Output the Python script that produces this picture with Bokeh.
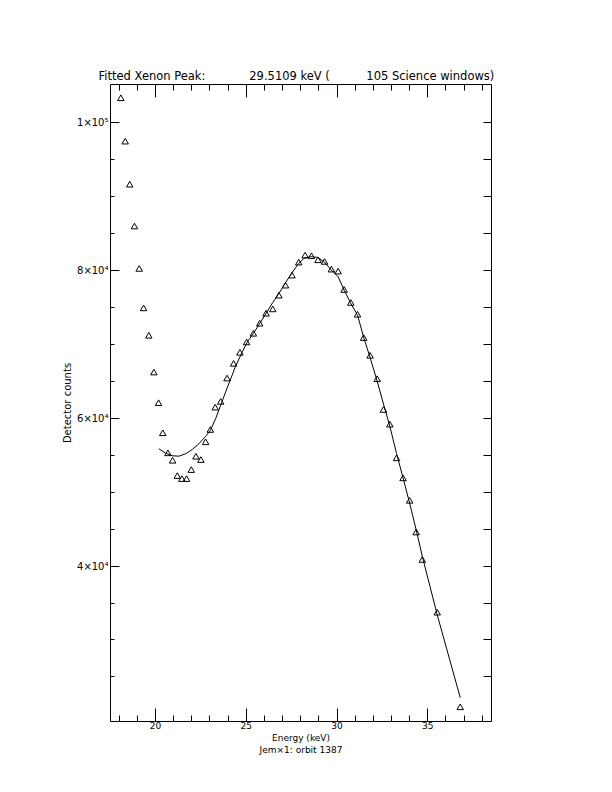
from bokeh.plotting import figure
from bokeh.models import Range1d, LinearAxis, FixedTicker, Title
from bokeh.embed import file_html
from bokeh.resources import INLINE

# ---- data ----
energy = [18.09, 18.33, 18.58, 18.84, 19.10, 19.34, 19.63, 19.91, 20.17, 20.40,
          20.68, 20.94, 21.20, 21.45, 21.71, 21.97, 22.23, 22.50, 22.76, 23.02,
          23.29, 23.59, 23.94, 24.30, 24.65, 25.02, 25.39, 25.74, 26.09, 26.46,
          26.80, 27.16, 27.52, 27.89, 28.24, 28.59, 28.95, 29.31, 29.69, 30.06,
          30.39, 30.76, 31.13, 31.47, 31.82, 32.21, 32.56, 32.91, 33.28, 33.64,
          34.00, 34.36, 34.70, 35.52, 36.79]
counts = [103184, 97317, 91491, 85840, 80108, 74770, 71070, 66098, 61951, 57886,
          55176, 54173, 52100, 51694, 51694, 52913, 54715, 54268, 56667, 58333,
          61355, 62127, 65285, 67276, 68767, 70163, 71341, 72696, 74051, 74634,
          76491, 77846, 79201, 80962, 81911, 81816, 81274, 81057, 80014, 79743,
          77263, 75501, 73916, 70759, 68360, 65203, 61043, 59051, 54499, 51789,
          48753, 44472, 40759, 33631, 20840]

fit_energy = [20.18, 20.55, 20.92, 21.29, 21.66, 22.03, 22.39, 22.76, 23.02, 23.31,
              23.59, 23.86, 24.14, 24.41, 24.78, 25.06, 25.39, 25.74, 26.09, 26.46,
              26.80, 27.16, 27.52, 27.89, 28.18, 28.55, 28.92, 29.29, 29.69, 30.06,
              30.39, 30.76, 31.13, 31.47, 31.82, 32.21, 32.56, 32.91, 33.28, 33.64,
              34.00, 34.36, 34.70, 35.52, 36.79]
fit_counts = [55854, 55257, 54905, 54851, 55176, 55759, 56531, 57520, 58333, 59919,
              61721, 63523, 65285, 67005, 68943, 70298, 71436, 72791, 74146, 75637,
              76856, 78293, 79648, 80921, 81599, 81816, 81734, 81138, 80014, 79106,
              77304, 75501, 73916, 70900, 68200, 65000, 61900, 58900, 55200, 51900,
              48500, 44900, 41300, 33400, 22195]

x_major = [20, 25, 30, 35]
x_minor = [18, 19, 21, 22, 23, 24, 26, 27, 28, 29, 31, 32, 33, 34, 36, 37, 38]
y_major = [40000, 60000, 80000, 100000]
y_major_labels = ["4×10⁴", "6×10⁴", "8×10⁴", "1×10⁵"]
y_minor = [25000, 30000, 35000, 45000, 50000, 55000, 65000, 70000, 75000,
           85000, 90000, 95000]
y_right_ticks = [25000, 30000, 35000, 40000, 45000, 50000, 55000, 60000, 65000,
                 70000, 75000, 80000, 85000, 90000, 95000, 100000]

title_text = ("Fitted Xenon Peak:" + "\u00a0" * 12 + "29.5109 keV (" + "\u00a0" * 10
              + "105 Science windows)")
x_label_1 = "Energy (keV)"
x_label_2 = "Jem×1: orbit 1387"
y_label = "Detector counts"

FONT = "DejaVu Sans"

x0, x1 = 17.52, 38.51
y0, y1 = 18980, 105100

p = figure(width=600, height=780, output_backend="svg", toolbar_location=None,
           x_range=Range1d(x0, x1), y_range=Range1d(y0, y1),
           x_axis_location=None, y_axis_location=None,
           min_border_left=110, min_border_right=109,
           min_border_top=84, min_border_bottom=59)
p.outline_line_color = None
p.background_fill_color = "white"
p.border_fill_color = "white"
for g in p.grid:
    g.visible = False


def style(ax, major_in, minor_in, font_size="10px"):
    ax.major_tick_in = major_in
    ax.major_tick_out = 0
    ax.minor_tick_in = minor_in
    ax.minor_tick_out = 0
    ax.axis_line_color = "black"
    ax.axis_line_width = 1
    ax.major_tick_line_color = "black"
    ax.minor_tick_line_color = "black"
    ax.major_label_text_font = FONT
    ax.major_label_text_font_size = font_size
    ax.major_label_text_color = "black"
    ax.major_label_standoff = 2


# bottom axis
xb = LinearAxis(ticker=FixedTicker(ticks=x_major, minor_ticks=x_minor))
style(xb, 13, 6, "9px")
xb.major_label_standoff = 0
xb.axis_label = x_label_1
xb.axis_label_text_font = FONT
xb.axis_label_text_font_size = "9px"
xb.axis_label_text_font_style = "normal"
xb.axis_label_text_color = "black"
xb.axis_label_standoff = 1
p.add_layout(xb, "below")
p.add_layout(Title(text=x_label_2, align="center", text_font=FONT,
                   text_font_size="9px", text_font_style="normal",
                   text_color="black", standoff=-6), "below")

# top axis (no labels)
xt = LinearAxis(ticker=FixedTicker(ticks=x_major, minor_ticks=x_minor))
style(xt, 13, 6, "1px")
xt.major_label_overrides = {t: "" for t in x_major}
xt.major_label_standoff = 0
p.add_layout(xt, "above")

# left axis
yl = LinearAxis(ticker=FixedTicker(ticks=y_major, minor_ticks=y_minor))
style(yl, 9, 4)
yl.major_label_overrides = dict(zip(y_major, y_major_labels))
yl.axis_label = y_label
yl.axis_label_text_font = FONT
yl.axis_label_text_font_size = "10px"
yl.axis_label_text_font_style = "normal"
yl.axis_label_text_color = "black"
yl.axis_label_standoff = 1
p.add_layout(yl, "left")

# right axis (uniform ticks, no labels)
yr = LinearAxis(ticker=FixedTicker(ticks=[], minor_ticks=y_right_ticks))
style(yr, 8, 8)
p.add_layout(yr, "right")

# title
p.title.text = title_text
p.title.align = "left"
p.title.offset = -12
p.title.text_font = FONT
p.title.text_font_size = "11.5px"
p.title.text_font_style = "normal"
p.title.text_color = "black"
p.title.standoff = 3

# data
p.line(fit_energy, fit_counts, line_color="black", line_width=1)
p.scatter(energy, counts, marker="triangle", size=6.5, fill_color=None,
          line_color="black", line_width=1)

open("out.html", "w").write(file_html(p, INLINE))
